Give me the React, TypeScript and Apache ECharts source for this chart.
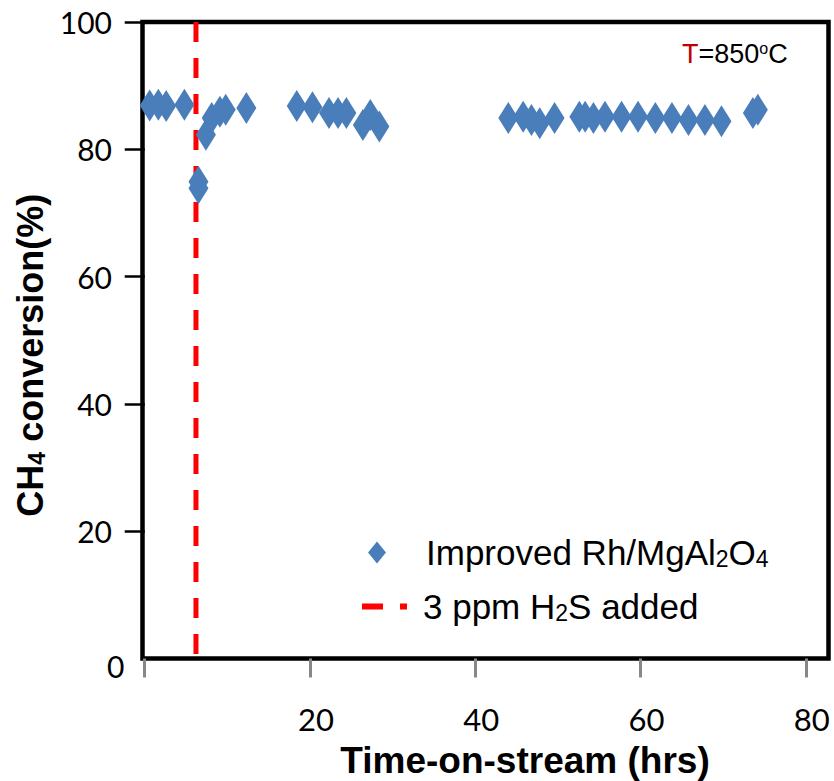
import React, { useEffect, useRef } from "react";
import * as echarts from "echarts";

const timeHrs = [0.6, 1.65, 2.6, 4.8, 6.5, 6.5, 7.4, 8.1, 9.1, 9.8, 12.3, 18.4, 20.3, 22.3, 23.4, 24.4, 26.4, 27.3, 28.4,
  44.0, 45.8, 46.8, 47.8, 49.6, 52.6, 53.3, 54.3, 55.7, 57.7, 59.7, 61.8, 63.8, 65.8, 67.8, 69.8, 73.6, 74.2];
const conversion = [86.9, 87.0, 86.8, 87.0, 74.9, 73.9, 82.3, 84.9, 85.9, 86.2, 86.5, 86.8, 86.6, 85.7, 85.7, 85.7, 83.8, 85.4, 83.6,
  84.9, 85.1, 84.6, 84.1, 84.9, 85.1, 85.1, 84.9, 85.1, 85.1, 85.1, 84.9, 84.9, 84.6, 84.6, 84.4, 85.7, 86.2];
const h2sTime = 6.2;
const h2sLine = [100, -1];
const xTicks = [0, 20, 40, 60, 80];
const xLabels = [20, 40, 60, 80];
const yTicks = [20, 40, 60, 80, 100];

const subStyle = {
  fontSize: 23,
  lineHeight: 23,
  padding: [17, 0, 0, 0],
  verticalAlign: "bottom",
  fontFamily: "Liberation Sans",
  color: "#000",
};

export default function App() {
  const ref = useRef<HTMLDivElement>(null);
  useEffect(() => {
    document.body.style.margin = "0";
    const chart = echarts.init(ref.current!, null, { renderer: "svg" });
    chart.setOption({
      animation: false,
      backgroundColor: "#fff",
      title: {
        text: "{r|T}=850{sup|o}C",
        left: 677,
        top: 35,
        textStyle: {
          fontFamily: "Liberation Sans",
          fontSize: 27,
          fontWeight: "normal",
          color: "#000",
          rich: {
            r: { color: "#c00000", fontSize: 27, fontFamily: "Liberation Sans" },
            sup: { fontSize: 16, verticalAlign: "top", fontFamily: "Liberation Sans", color: "#000" },
          },
        },
      },
      grid: {
        left: 142.5,
        right: 5.5,
        top: 22,
        bottom: 122.5,
        outerBoundsMode: "none",
        show: true,
        borderColor: "#000",
        borderWidth: 4.5,
        backgroundColor: "transparent",
      },
      legend: [
        {
          data: [{ name: "Improved Rh/MgAl2O4", icon: "diamond" }],
          left: 363,
          top: 525,
          itemWidth: 18,
          itemHeight: 22,
          formatter: () => "Improved Rh/MgAl{sub|2}O{sub|4}",
          textStyle: {
            fontFamily: "Liberation Sans",
            fontSize: 35,
            color: "#000",
            padding: [0, 0, 0, 35],
            rich: { sub: subStyle },
          },
        },
        {
          data: [{ name: "3 ppm H2S added", icon: "path://M0,0H21V6H0ZM38,0H45V6H38Z" }],
          left: 357,
          top: 579,
          itemWidth: 45,
          itemHeight: 6,
          formatter: () => "3 ppm H{sub|2}S added",
          textStyle: {
            fontFamily: "Liberation Sans",
            fontSize: 35,
            color: "#000",
            padding: [0, 0, 0, 11],
            rich: { sub: subStyle },
          },
        },
      ],
      xAxis: {
        type: "value",
        min: -0.27,
        max: 82.75,
        name: "Time-on-stream (hrs)",
        nameLocation: "middle",
        nameGap: 83,
        nameTextStyle: {
          fontFamily: "Liberation Sans",
          fontWeight: "bold",
          fontSize: 37,
          color: "#000",
          padding: [0, 0, 0, 79],
        },
        axisLine: { show: false },
        axisTick: { show: true, customValues: xTicks, length: 19, lineStyle: { color: "#888", width: 3 } },
        axisLabel: {
          customValues: xLabels,
          margin: 45,
          fontFamily: "Lato",
          fontSize: 31,
          color: "#000",
          padding: [0, 0, 0, 12],
        },
        splitLine: { show: false },
      },
      yAxis: {
        type: "value",
        min: 0,
        max: 100,
        offset: 5,
        name: "CH{sub|4} conversion(%)",
        nameLocation: "middle",
        nameRotate: 90,
        nameGap: 84,
        nameTextStyle: {
          fontFamily: "Liberation Sans",
          fontWeight: "bold",
          fontSize: 36,
          color: "#000",
          padding: [0, 30, 0, 0],
          rich: { sub: { ...subStyle, fontWeight: "bold", padding: [16, 0, 0, 0] } },
        },
        axisLine: { show: false },
        axisTick: { show: true, customValues: yTicks, length: 20, lineStyle: { color: "#000", width: 2.5 } },
        axisLabel: {
          customValues: yTicks,
          margin: 25.5,
          fontFamily: "Lato",
          fontSize: 30,
          color: "#000",
        },
        splitLine: { show: false },
      },
      graphic: [
        {
          type: "text",
          left: 107,
          top: 651,
          style: { text: "0", fontFamily: "Lato", fontSize: 30, fill: "#000" },
        },
      ],
      series: [
        {
          name: "3 ppm H2S added",
          type: "line",
          data: h2sLine.map((v) => [h2sTime, v]),
          symbol: "none",
          clip: false,
          lineStyle: { color: "#ff0000", width: 5, type: [20, 16] },
          itemStyle: { color: "#ff0000" },
          z: 1,
        },
        {
          name: "Improved Rh/MgAl2O4",
          type: "scatter",
          data: timeHrs.map((t, i) => [t, conversion[i]]),
          symbol: "diamond",
          symbolSize: [20, 32],
          itemStyle: { color: "#4a7ebb", opacity: 1 },
          z: 2,
        },
      ],
    });
    return () => chart.dispose();
  }, []);
  return <div ref={ref} style={{ width: 834, height: 781 }} />;
}
